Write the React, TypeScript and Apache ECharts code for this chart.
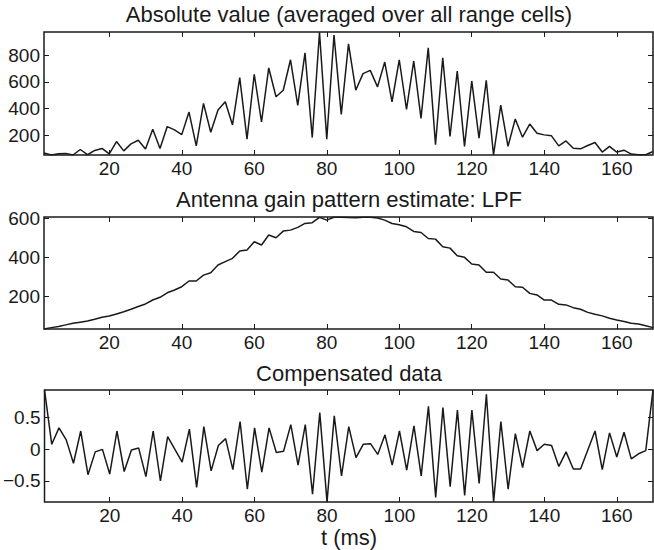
import React, { useEffect, useRef } from "react";
import * as echarts from "echarts";

// time grid (ms)
const tValues: number[] = Array.from({ length: 85 }, (_, i) => 2 + 2 * i);

const absValues = [
  70, 55, 64, 67, 55, 96, 57, 89, 104, 64,
  155, 86, 138, 165, 99, 247, 104, 267, 242, 207,
  375, 123, 440, 225, 390, 452, 279, 632, 173, 657,
  301, 704, 489, 538, 765, 425, 817, 185, 970, 173,
  950, 358, 884, 538, 662, 686, 563, 748, 452, 765,
  395, 756, 328, 854, 131, 780, 193, 681, 119, 607,
  180, 612, 55, 427, 119, 323, 188, 286, 217, 205,
  198, 123, 160, 106, 101, 126, 148, 77, 119, 77,
  91, 62, 57, 57, 81,
];

const gainValues = [
  35, 42, 48, 56, 64, 70, 76, 85, 95, 101,
  112, 123, 136, 150, 163, 183, 197, 220, 234, 251,
  280, 280, 310, 322, 362, 379, 396, 433, 438, 481,
  464, 515, 501, 535, 540, 554, 574, 578, 605, 591,
  606, 606, 604, 603, 606, 606, 602, 591, 574, 567,
  557, 533, 528, 497, 494, 455, 448, 409, 401, 367,
  362, 325, 325, 290, 285, 251, 248, 217, 209, 183,
  183, 161, 158, 144, 136, 120, 110, 102, 90, 81,
  73, 64, 61, 52, 42,
];

const compValues = [
  0.94, 0.08, 0.34, 0.15, -0.22, 0.29, -0.4, -0.04, 0.0, -0.39,
  0.29, -0.35, -0.01, 0.02, -0.43, 0.29, -0.5, 0.2, 0.0, -0.2,
  0.32, -0.6, 0.36, -0.34, 0.06, 0.17, -0.32, 0.44, -0.63, 0.34,
  -0.36, 0.34, -0.05, -0.03, 0.39, -0.25, 0.39, -0.71, 0.58, -0.83,
  0.53, -0.42, 0.36, -0.13, 0.08, 0.09, -0.08, 0.23, -0.25, 0.29,
  -0.33, 0.37, -0.42, 0.68, -0.76, 0.66, -0.59, 0.62, -0.73, 0.62,
  -0.54, 0.87, -0.83, 0.44, -0.63, 0.25, -0.29, 0.29, -0.02, 0.08,
  0.06, -0.27, -0.04, -0.31, -0.31, -0.01, 0.29, -0.32, 0.26, -0.12,
  0.27, -0.15, -0.07, -0.02, 0.94,
];

const xTicks = [20, 40, 60, 80, 100, 120, 140, 160];
const absTicks = [200, 400, 600, 800];
const gainTicks = [200, 400, 600];
const compTicks = [-0.5, 0, 0.5];

const panelTitles = [
  "Absolute value (averaged over all range cells)",
  "Antenna gain pattern estimate: LPF",
  "Compensated data",
];
const xAxisTitle = "t (ms)";

const FONT = "'Liberation Sans', Arial, Helvetica, sans-serif";
const INK = "#1a1a1a";

export default function App() {
  const ref = useRef<HTMLDivElement>(null);

  useEffect(() => {
    document.body.style.margin = "0";
    const chart = echarts.init(ref.current!, null, { renderer: "svg" });

    const grids = [
      { left: 44, top: 32, width: 609, height: 123 },
      { left: 44, top: 217, width: 609, height: 112 },
      { left: 44, top: 390, width: 609, height: 112 },
    ];
    const yRanges = [
      [55, 972],
      [35, 607],
      [-0.832, 0.938],
    ];
    const yTickSets = [absTicks, gainTicks, compTicks];
    const seriesData = [absValues, gainValues, compValues];

    const fmtY = (v: number) => (v < 0 ? "\u2212" + Math.abs(v) : String(v));

    const xAxes: any[] = [];
    const yAxes: any[] = [];
    const series: any[] = [];
    grids.forEach((_, i) => {
      const common = {
        type: "value",
        gridIndex: i,
        axisLine: { show: false, onZero: false },
        splitLine: { show: false },
        axisTick: {
          show: true,
          inside: true,
          length: 5,
          lineStyle: { color: INK, width: 1 },
        },
      };
      xAxes.push({
        ...common,
        position: "bottom",
        min: 2,
        max: 170,
        axisTick: { ...common.axisTick, customValues: xTicks },
        axisLabel: {
          customValues: xTicks,
          color: INK,
          fontSize: 19,
          fontFamily: FONT,
          margin: 5,
          lineHeight: 16,
        },
      });
      xAxes.push({
        ...common,
        position: "top",
        min: 2,
        max: 170,
        axisTick: { ...common.axisTick, customValues: xTicks },
        axisLabel: { show: false },
      });
      yAxes.push({
        ...common,
        position: "left",
        min: yRanges[i][0],
        max: yRanges[i][1],
        axisTick: { ...common.axisTick, customValues: yTickSets[i] },
        axisLabel: {
          customValues: yTickSets[i],
          color: INK,
          fontSize: 19,
          fontFamily: FONT,
          margin: 4,
          formatter: fmtY,
        },
      });
      yAxes.push({
        ...common,
        position: "right",
        min: yRanges[i][0],
        max: yRanges[i][1],
        axisTick: { ...common.axisTick, customValues: yTickSets[i] },
        axisLabel: { show: false },
      });
      series.push({
        type: "line",
        xAxisIndex: i * 2,
        yAxisIndex: i * 2,
        data: tValues.map((t, k) => [t, seriesData[i][k]]),
        showSymbol: false,
        symbol: "none",
        lineStyle: { color: INK, width: 1.5 },
        clip: true,
      });
    });

    const titleYs = [14.5, 199.5, 373];
    const graphic: any[] = panelTitles.map((txt, i) => ({
      type: "text",
      x: 349,
      y: titleYs[i],
      style: {
        text: txt,
        fill: INK,
        fontSize: 22,
        fontFamily: FONT,
        lineHeight: 20,
        textAlign: "center",
        textVerticalAlign: "middle",
      },
    }));
    graphic.push({
      type: "text",
      x: 349,
      y: 537.5,
      style: {
        text: xAxisTitle,
        fill: INK,
        fontSize: 22,
        fontFamily: FONT,
        lineHeight: 17,
        textAlign: "center",
        textVerticalAlign: "middle",
      },
    });

    chart.setOption({
      animation: false,
      backgroundColor: "#ffffff",
      grid: grids.map((g) => ({
        ...g,
        show: true,
        borderColor: INK,
        borderWidth: 1.5,
        backgroundColor: "transparent",
      })),
      xAxis: xAxes,
      yAxis: yAxes,
      series,
      graphic,
    });

    return () => chart.dispose();
  }, []);

  return (
    <div
      ref={ref}
      style={{ position: "absolute", left: 0, top: 0, width: 654, height: 550 }}
    />
  );
}
